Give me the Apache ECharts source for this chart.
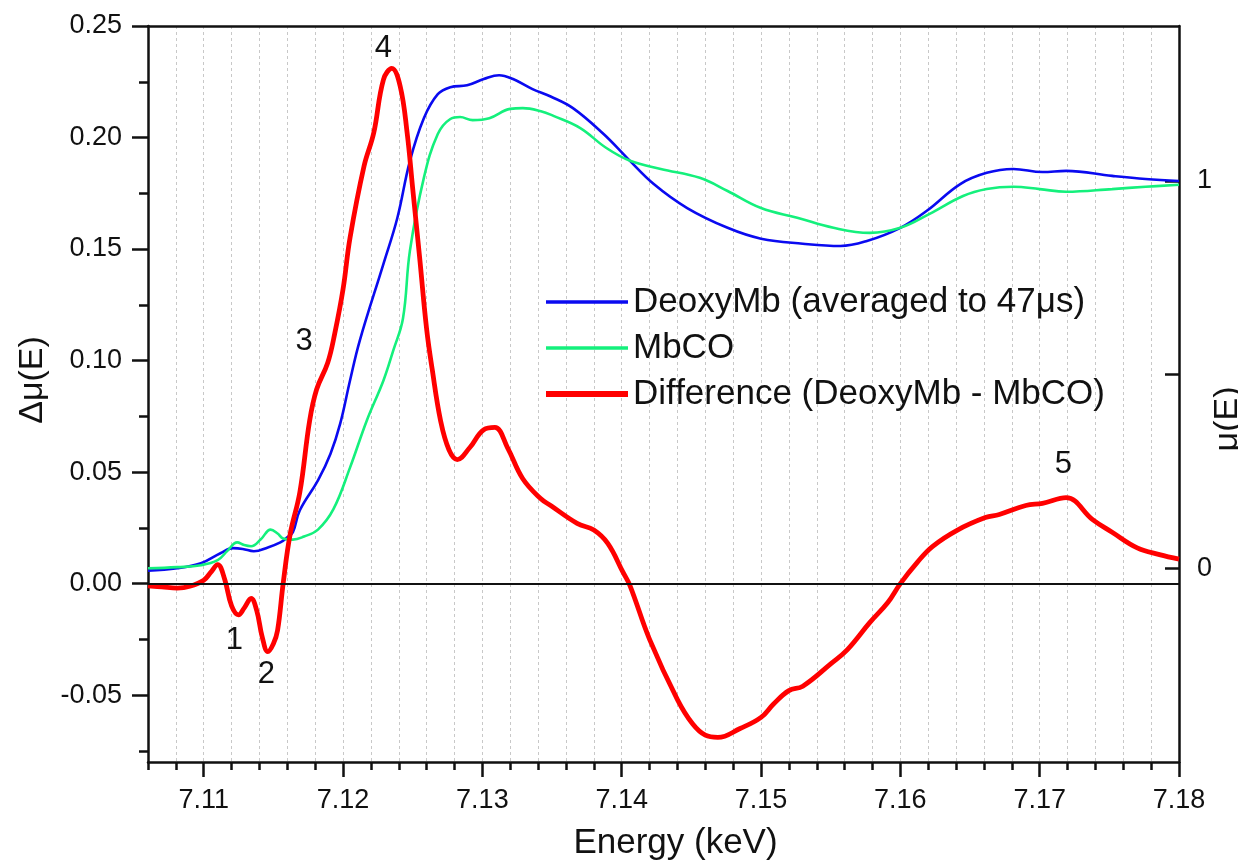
<!DOCTYPE html>
<html>
<head>
<meta charset="utf-8">
<title>Fe K-edge XANES: DeoxyMb vs MbCO</title>
<script src="https://cdn.jsdelivr.net/npm/echarts@6/dist/echarts.min.js"></script>
<style>
  html, body { margin: 0; padding: 0; background: #ffffff; }
  #chart { width: 1238px; height: 863px; }
</style>
</head>
<body>
<div id="chart"></div>
<script>
// Normalised absorption of DeoxyMb (right axis, mu(E))
const energyDeoxy = [7.1060, 7.1081, 7.1098, 7.1112, 7.1121, 7.1128, 7.1136, 7.1146, 7.1155, 7.1160,
  7.1164, 7.1169, 7.1182, 7.1191, 7.1198, 7.1205, 7.1212, 7.1229, 7.1239, 7.1248,
  7.1258, 7.1268, 7.1277, 7.1289, 7.1301, 7.1312, 7.1322, 7.1336, 7.1349, 7.1365,
  7.1387, 7.1404, 7.1423, 7.1447, 7.1476, 7.1500, 7.1530, 7.1557, 7.1576, 7.1600,
  7.1619, 7.1643, 7.1662, 7.1681, 7.1702, 7.1719, 7.1752, 7.1776, 7.1800];
const muDeoxy = [-0.006, 0.000, 0.013, 0.039, 0.052, 0.050, 0.044, 0.054, 0.067, 0.080,
  0.093, 0.150, 0.227, 0.296, 0.374, 0.485, 0.588, 0.786, 0.905, 1.052,
  1.162, 1.224, 1.242, 1.247, 1.263, 1.273, 1.263, 1.237, 1.218, 1.188,
  1.121, 1.059, 0.992, 0.930, 0.879, 0.851, 0.838, 0.832, 0.845, 0.879,
  0.923, 0.992, 1.021, 1.031, 1.023, 1.026, 1.013, 1.005, 1.000];

// Normalised absorption of MbCO (right axis, mu(E))
const energyMbco = [7.1060, 7.1081, 7.1098, 7.1110, 7.1117, 7.1124, 7.1129, 7.1134, 7.1141, 7.1148,
  7.1153, 7.1157, 7.1164, 7.1172, 7.1182, 7.1193, 7.1205, 7.1217, 7.1229, 7.1236,
  7.1243, 7.1248, 7.1258, 7.1268, 7.1277, 7.1284, 7.1293, 7.1305, 7.1320, 7.1329,
  7.1342, 7.1351, 7.1370, 7.1389, 7.1406, 7.1428, 7.1456, 7.1476, 7.1500, 7.1526,
  7.1552, 7.1578, 7.1600, 7.1621, 7.1645, 7.1662, 7.1681, 7.1700, 7.1719, 7.1752,
  7.1776, 7.1800];
const muMbco = [0.000, 0.003, 0.008, 0.021, 0.045, 0.067, 0.060, 0.057, 0.075, 0.100,
  0.090, 0.077, 0.074, 0.082, 0.100, 0.152, 0.260, 0.381, 0.485, 0.562,
  0.645, 0.820, 1.008, 1.121, 1.160, 1.165, 1.157, 1.162, 1.186, 1.188,
  1.180, 1.168, 1.137, 1.085, 1.052, 1.031, 1.008, 0.974, 0.930, 0.905,
  0.879, 0.866, 0.879, 0.915, 0.961, 0.979, 0.985, 0.979, 0.972, 0.979,
  0.985, 0.990];

// Difference spectrum DeoxyMb - MbCO (left axis, delta mu(E))
const energyDiff = [7.1060, 7.1070, 7.1081, 7.1090, 7.1100, 7.1105, 7.1110, 7.1115, 7.1120, 7.1125,
  7.1129, 7.1134, 7.1138, 7.1142, 7.1146, 7.1150, 7.1153, 7.1157, 7.1162, 7.1169,
  7.1176, 7.1181, 7.1189, 7.1194, 7.1200, 7.1205, 7.1215, 7.1222, 7.1229, 7.1235,
  7.1241, 7.1246, 7.1250, 7.1255, 7.1260, 7.1264, 7.1270, 7.1276, 7.1282, 7.1291,
  7.1301, 7.1309, 7.1318, 7.1329, 7.1342, 7.1349, 7.1368, 7.1380, 7.1390, 7.1401,
  7.1406, 7.1420, 7.1440, 7.1451, 7.1460, 7.1469, 7.1485, 7.1500, 7.1509, 7.1520,
  7.1530, 7.1550, 7.1562, 7.1578, 7.1591, 7.1600, 7.1612, 7.1623, 7.1641, 7.1661,
  7.1671, 7.1690, 7.1702, 7.1719, 7.1738, 7.1752, 7.1770, 7.1786, 7.1800];
const deltaMu = [-0.001, -0.0015, -0.002, -0.0012, 0.0015, 0.005, 0.0085, 0.002, -0.010, -0.014,
  -0.011, -0.0067, -0.012, -0.024, -0.0305, -0.027, -0.021, 0.000, 0.022, 0.041,
  0.073, 0.087, 0.099, 0.112, 0.132, 0.155, 0.187, 0.202, 0.226, 0.231,
  0.223, 0.202, 0.177, 0.146, 0.114, 0.096, 0.073, 0.060, 0.0556, 0.061,
  0.069, 0.070, 0.061, 0.047, 0.038, 0.035, 0.027, 0.024, 0.018, 0.005,
  -0.001, -0.025, -0.052, -0.063, -0.068, -0.069, -0.065, -0.060, -0.054, -0.048,
  -0.046, -0.036, -0.0296, -0.0175, -0.0085, 0.000, 0.0094, 0.0166, 0.024, 0.0296,
  0.031, 0.035, 0.036, 0.0385, 0.0287, 0.023, 0.016, 0.013, 0.011];

// Axis ticks and labels
const energyMajorTicks = [7.11, 7.12, 7.13, 7.14, 7.15, 7.16, 7.17, 7.18];
const deltaMajorTicks = [-0.05, 0.00, 0.05, 0.10, 0.15, 0.20, 0.25];
const deltaMinorTicks = [-0.075, -0.025, 0.025, 0.075, 0.125, 0.175, 0.225];
const muTicks = [0, 0.5, 1];
const muLabels = [0, 1];

// Feature numbers along the difference spectrum
const featureNames = ['1', '2', '3', '4', '5'];

const seriesNames = ['DeoxyMb (averaged to 47\u03bcs)', 'MbCO', 'Difference (DeoxyMb - MbCO)'];

const zip = (xs, ys) => xs.map((x, i) => [x, ys[i]]);

const FONT = "'Liberation Sans', Arial, Helvetica, sans-serif";
const INK = '#111111';
const BLUE = '#0a0af0';
const GREEN = '#14f07c';
const RED = '#ff0000';

// where each feature number sits, in (energy, delta mu) coordinates
const featureCoords = [
  [7.1122, -0.0255],
  [7.1145, -0.0408],
  [7.1172, 0.1084],
  [7.1229, 0.2401],
  [7.1717, 0.0533]
];

const chart = echarts.init(document.getElementById('chart'), null, { renderer: 'canvas' });

const option = {
  backgroundColor: '#ffffff',
  animation: false,
  grid: { left: 148, right: 59, top: 26, bottom: 101, containLabel: false, outerBoundsMode: 'none' },
  legend: {
    orient: 'vertical',
    left: 543,
    top: 284,
    padding: 0,
    itemWidth: 82,
    itemHeight: 14,
    itemGap: 10,
    data: [
      { name: seriesNames[0], lineStyle: { width: 3.5, color: BLUE } },
      { name: seriesNames[1], lineStyle: { width: 3.5, color: GREEN } },
      { name: seriesNames[2], lineStyle: { width: 6, color: RED } }
    ],
    itemStyle: { opacity: 0 },
    textStyle: { fontFamily: FONT, fontSize: 35, color: INK, lineHeight: 36 },
    selectedMode: false
  },
  xAxis: [
    {
      type: 'value', min: 7.106, max: 7.18, position: 'bottom',
      axisLine: { show: true, onZero: false, lineStyle: { color: INK, width: 2.5 } },
      axisTick: { show: true, inside: false, length: 15, customValues: energyMajorTicks,
        lineStyle: { color: INK, width: 2.5 } },
      axisLabel: { show: true, customValues: energyMajorTicks, margin: 25,
        formatter: v => v.toFixed(2), fontFamily: FONT, fontSize: 27, color: INK },
      splitLine: { show: false },
      name: 'Energy (keV)', nameLocation: 'middle', nameGap: 64, nameMoveOverlap: false,
      nameTextStyle: { fontFamily: FONT, fontSize: 35, color: INK, padding: [0, 0, 0, 24] }
    },
    {
      type: 'value', min: 7.106, max: 7.18, interval: 0.002, position: 'bottom',
      axisLine: { show: false, onZero: false },
      axisTick: { show: true, inside: false, length: 8, lineStyle: { color: INK, width: 2.5 } },
      axisLabel: { show: false },
      splitLine: { show: true, lineStyle: { color: '#c8c8c8', width: 1, type: [3, 3] } }
    },
    {
      type: 'value', min: 7.106, max: 7.18, position: 'top',
      axisLine: { show: true, onZero: false, lineStyle: { color: INK, width: 2.5 } },
      axisTick: { show: false }, axisLabel: { show: false }, splitLine: { show: false }
    }
  ],
  yAxis: [
    {
      type: 'value', min: -0.08, max: 0.25, position: 'left',
      axisLine: { show: true, onZero: false, lineStyle: { color: INK, width: 2.5 } },
      axisTick: { show: true, inside: false, length: 16, customValues: deltaMajorTicks,
        lineStyle: { color: INK, width: 2.5 } },
      axisLabel: { show: true, customValues: deltaMajorTicks, margin: 26,
        formatter: v => v.toFixed(2), fontFamily: FONT, fontSize: 27, color: INK },
      splitLine: { show: false },
      name: '\u0394\u03bc(E)', nameLocation: 'middle', nameGap: 98, nameRotate: 90,
      nameMoveOverlap: false,
      nameTextStyle: { fontFamily: FONT, fontSize: 34, color: INK, padding: [0, 0, 0, 28] }
    },
    {
      type: 'value', min: -0.08, max: 0.25, position: 'left',
      axisLine: { show: false, onZero: false },
      axisTick: { show: true, inside: false, length: 9, customValues: deltaMinorTicks,
        lineStyle: { color: INK, width: 2.5 } },
      axisLabel: { show: false },
      splitLine: { show: false }
    },
    {
      type: 'value', min: -0.5, max: 1.4, position: 'right',
      axisLine: { show: true, onZero: false, lineStyle: { color: INK, width: 2.5 } },
      axisTick: { show: true, inside: true, length: 14, customValues: muTicks,
        lineStyle: { color: INK, width: 2.5 } },
      axisLabel: { show: true, customValues: muLabels, margin: 18,
        formatter: v => String(Math.round(v)), fontFamily: FONT, fontSize: 27, color: INK },
      splitLine: { show: false },
      name: '\u03bc(E)', nameLocation: 'middle', nameGap: 32, nameRotate: 90,
      nameMoveOverlap: false,
      nameTextStyle: { fontFamily: FONT, fontSize: 34, color: INK, padding: [0, 0, 0, -50] }
    }
  ],
  series: [
    {
      name: seriesNames[0], type: 'line', xAxisIndex: 0, yAxisIndex: 2,
      data: zip(energyDeoxy, muDeoxy), showSymbol: false, symbol: 'none',
      smooth: 0.4,
      lineStyle: { color: BLUE, width: 2.6 }, itemStyle: { color: BLUE }, z: 3
    },
    {
      name: seriesNames[1], type: 'line', xAxisIndex: 0, yAxisIndex: 2,
      data: zip(energyMbco, muMbco), showSymbol: false, symbol: 'none',
      smooth: 0.4,
      lineStyle: { color: GREEN, width: 2.6 }, itemStyle: { color: GREEN }, z: 3
    },
    {
      name: seriesNames[2], type: 'line', xAxisIndex: 0, yAxisIndex: 0,
      data: zip(energyDiff, deltaMu), showSymbol: false, symbol: 'none',
      smooth: 0.4,
      lineStyle: { color: RED, width: 4.8 }, itemStyle: { color: RED }, z: 4,
      markLine: {
        silent: true, symbol: 'none', animation: false,
        label: { show: false },
        lineStyle: { color: INK, width: 2.2, type: 'solid' },
        data: [{ yAxis: 0 }]
      },
      markPoint: {
        silent: true, animation: false,
        symbol: 'circle', symbolSize: 1,
        itemStyle: { color: 'rgba(0,0,0,0)' },
        label: { show: true, position: 'inside', formatter: p => p.name,
          fontFamily: FONT, fontSize: 31, color: INK },
        data: featureNames.map((n, i) => ({ name: n, coord: featureCoords[i] }))
      }
    }
  ]
};

chart.setOption(option);
</script>
</body>
</html>
